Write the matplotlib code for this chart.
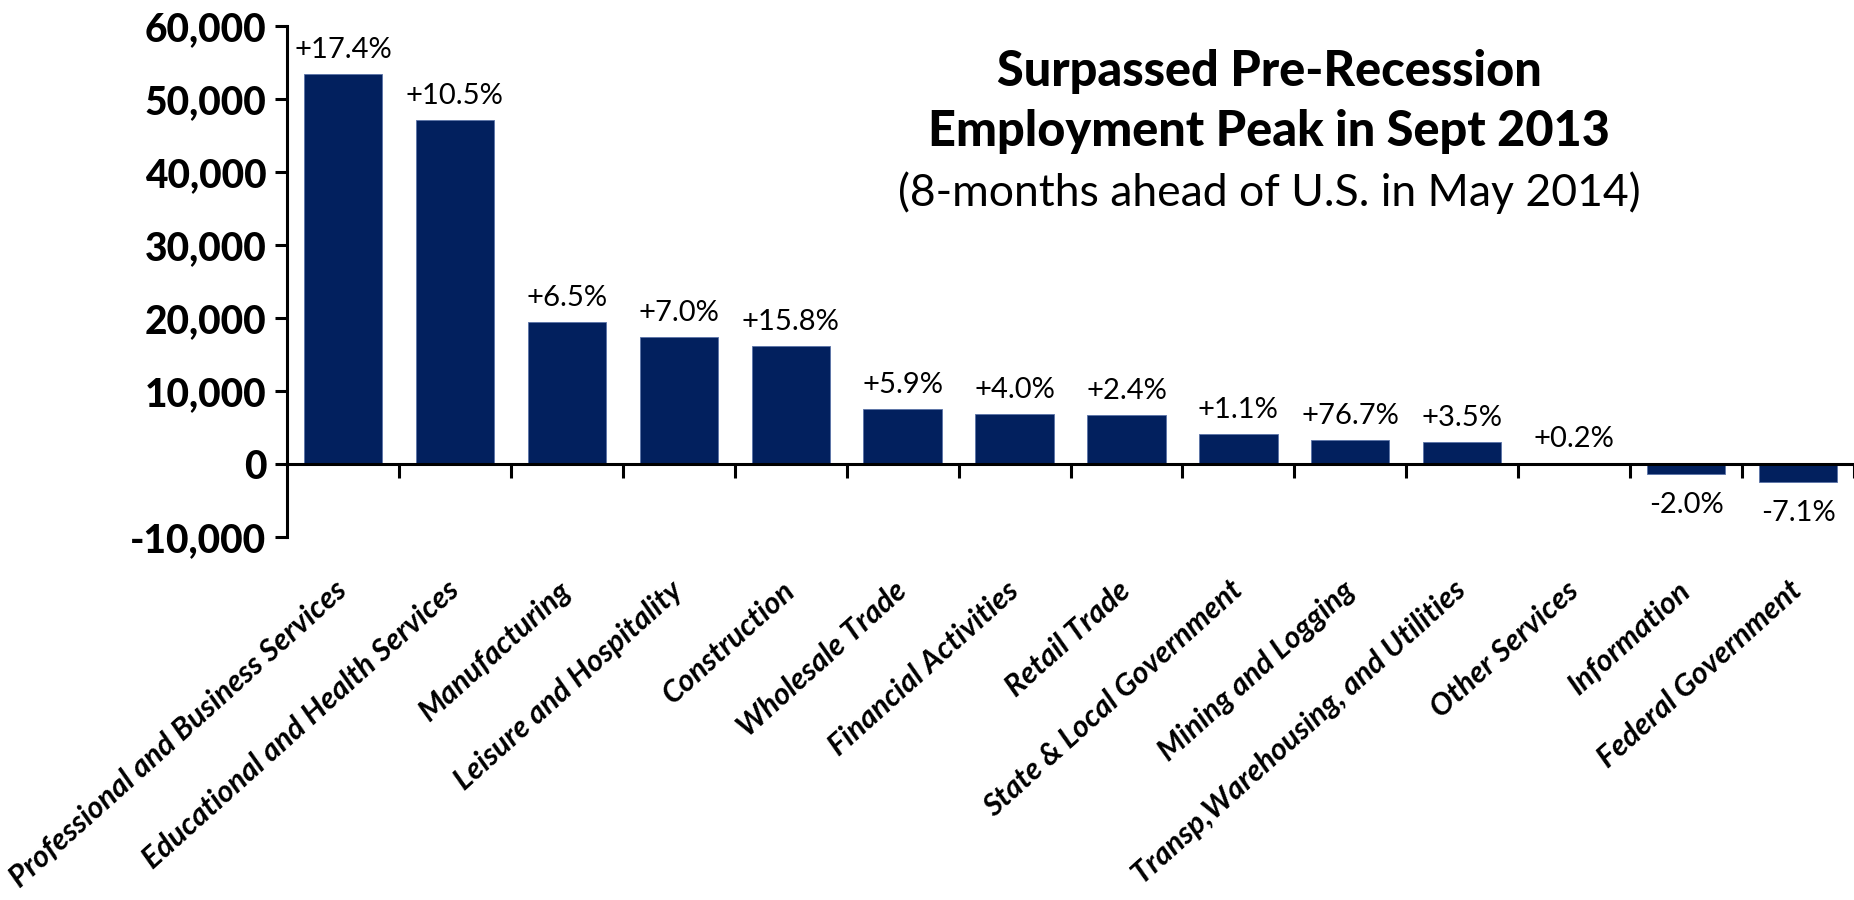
import matplotlib
matplotlib.use("agg")
import matplotlib.pyplot as plt
from matplotlib.ticker import FuncFormatter

plt.rcParams["font.family"] = ["Lato", "DejaVu Sans"]

industries = [
    "Professional and Business Services",
    "Educational and Health Services",
    "Manufacturing",
    "Leisure and Hospitality",
    "Construction",
    "Wholesale Trade",
    "Financial Activities",
    "Retail Trade",
    "State & Local Government",
    "Mining and Logging",
    "Transp,Warehousing, and Utilities",
    "Other Services",
    "Information",
    "Federal Government",
]
jobs_added = [53400, 47100, 19500, 17400, 16100, 7500, 6800, 6650,
              4050, 3250, 3050, 150, -1350, -2500]
pct_change = ["+17.4%", "+10.5%", "+6.5%", "+7.0%", "+15.8%", "+5.9%", "+4.0%",
              "+2.4%", "+1.1%", "+76.7%", "+3.5%", "+0.2%", "-2.0%", "-7.1%"]

BAR_COLOR = "#02205E"

fig = plt.figure(figsize=(18.54, 9), dpi=100)
ax = fig.add_axes([287 / 1854, 1 - 537 / 900, 1 - 287 / 1854, (537 - 26) / 900])

x = list(range(len(industries)))
ax.bar(x, jobs_added, width=0.7, color=BAR_COLOR, edgecolor="#5a73a8", linewidth=0.6, zorder=2)

for i, (v, lab) in enumerate(zip(jobs_added, pct_change)):
    if v >= 0:
        ax.annotate(lab, (i, v), xytext=(0, 8), textcoords="offset points",
                    ha="center", va="bottom", fontsize=21)
    else:
        ax.annotate(lab, (i, v), xytext=(0, -13), textcoords="offset points",
                    ha="center", va="top", fontsize=21)

ax.set_xlim(-0.5, len(industries) - 0.5)
ax.set_ylim(-10000, 60000)
ax.set_yticks(range(-10000, 60001, 10000))
ax.yaxis.set_major_formatter(FuncFormatter(lambda v, p: f"{int(v):,}"))

ax.spines["top"].set_visible(False)
ax.spines["right"].set_visible(False)
ax.spines["bottom"].set_position(("data", 0))
ax.spines["left"].set_linewidth(2.2)
ax.spines["bottom"].set_linewidth(2.2)

ax.set_xticks(x)
ax.set_xticklabels(industries, rotation=42, ha="right", va="center",
                   rotation_mode="anchor", fontsize=22, fontweight="bold", fontstyle="italic")
ax.set_xticks([i + 0.5 for i in x], minor=True)
ax.tick_params(axis="x", which="major", length=0, pad=88)
ax.tick_params(axis="x", which="minor", length=10, width=2.2, direction="out")
ax.tick_params(axis="y", length=9, width=2.2, pad=6)
for t in ax.get_yticklabels():
    t.set_fontsize(28)
    t.set_fontweight("black")

cx = 1269 / 1854
fig.text(cx, 1 - 71 / 900, "Surpassed Pre-Recession", ha="center", va="center",
         fontsize=35, fontweight="black")
fig.text(cx, 1 - 132 / 900, "Employment Peak in Sept 2013", ha="center", va="center",
         fontsize=35, fontweight="black")
fig.text(cx, 1 - 193 / 900, "(8-months ahead of U.S. in May 2014)", ha="center", va="center",
         fontsize=32)

fig.savefig("out.png", dpi=100)
